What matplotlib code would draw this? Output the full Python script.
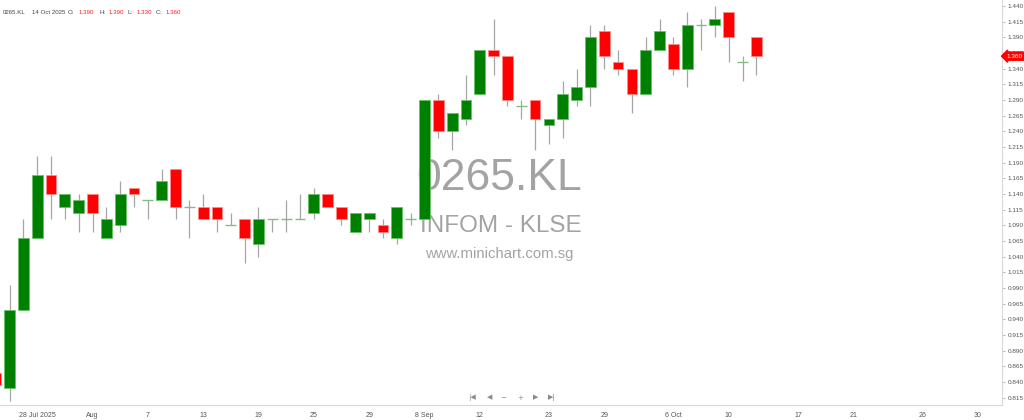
import matplotlib
matplotlib.use("Agg")
import matplotlib.pyplot as plt
from matplotlib.patches import Rectangle
import matplotlib.transforms as mtransforms

plt.rcParams['font.family'] = ['Liberation Sans', 'DejaVu Sans']

# daily OHLC, 23 Jul 2025 .. 14 Oct 2025 (trading days, index = bar position)
opens = [0.855, 0.830, 0.955, 1.07, 1.17, 1.12, 1.11, 1.14, 1.07, 1.09,
         1.15, 1.13, 1.13, 1.18, 1.12, 1.12, 1.12, 1.09, 1.10, 1.06,
         1.10, 1.10, 1.10, 1.11, 1.14, 1.12, 1.08, 1.10, 1.09, 1.07,
         1.10, 1.10, 1.29, 1.24, 1.26, 1.30, 1.37, 1.36, 1.28, 1.29,
         1.25, 1.26, 1.29, 1.31, 1.40, 1.35, 1.34, 1.30, 1.37, 1.38,
         1.34, 1.41, 1.41, 1.43, 1.35, 1.39]
highs = [0.855, 0.995, 1.10, 1.20, 1.20, 1.14, 1.14, 1.14, 1.12, 1.16,
         1.15, 1.13, 1.18, 1.18, 1.13, 1.14, 1.12, 1.11, 1.10, 1.12,
         1.10, 1.13, 1.14, 1.15, 1.14, 1.12, 1.11, 1.11, 1.10, 1.12,
         1.11, 1.29, 1.30, 1.27, 1.33, 1.37, 1.42, 1.36, 1.29, 1.29,
         1.26, 1.32, 1.34, 1.41, 1.41, 1.37, 1.34, 1.39, 1.42, 1.39,
         1.43, 1.42, 1.44, 1.43, 1.36, 1.39]
lows = [0.835, 0.810, 0.955, 1.07, 1.10, 1.10, 1.08, 1.08, 1.07, 1.08,
        1.12, 1.10, 1.13, 1.10, 1.07, 1.10, 1.08, 1.09, 1.03, 1.04,
        1.08, 1.08, 1.10, 1.10, 1.12, 1.09, 1.08, 1.08, 1.07, 1.06,
        1.09, 1.10, 1.23, 1.21, 1.25, 1.30, 1.33, 1.28, 1.26, 1.21,
        1.22, 1.23, 1.28, 1.28, 1.34, 1.33, 1.27, 1.30, 1.37, 1.33,
        1.31, 1.37, 1.39, 1.35, 1.32, 1.33]
closes = [0.835, 0.955, 1.07, 1.17, 1.14, 1.14, 1.13, 1.11, 1.10, 1.14,
          1.14, 1.13, 1.16, 1.12, 1.12, 1.10, 1.10, 1.09, 1.07, 1.10,
          1.10, 1.10, 1.10, 1.14, 1.12, 1.10, 1.11, 1.11, 1.08, 1.12,
          1.10, 1.29, 1.24, 1.27, 1.29, 1.37, 1.36, 1.29, 1.28, 1.26,
          1.26, 1.30, 1.31, 1.39, 1.36, 1.34, 1.30, 1.37, 1.40, 1.34,
          1.41, 1.41, 1.42, 1.39, 1.35, 1.36]

date_tick_pos = [3, 7, 11, 15, 19, 23, 27, 31, 35, 40, 44, 49, 53, 58, 62, 67, 71]
date_tick_labels = ['28 Jul 2025', 'Aug', '7', '13', '19', '25', '29', '8 Sep', '12',
                    '23', '29', '6 Oct', '10', '17', '21', '26', '30']
price_ticks = [round(0.815 + 0.025 * k, 3) for k in range(26)]

W, H = 1024, 420
fig = plt.figure(figsize=(W / 100, H / 100), dpi=100)
ax = fig.add_axes([0, 15 / H, 1002 / W, 405 / H])

green, green_edge = '#008000', '#6cbf6c'
red, red_edge = '#ff0000', '#ff8c8c'
wick_col = '#a6a6a6'
bw = 0.78

for i, (o, h, l, c) in enumerate(zip(opens, highs, lows, closes)):
    ax.vlines(i, l, h, color=wick_col, lw=0.9, zorder=2)
    if abs(o - c) < 1e-9:
        ax.hlines(o, i - bw / 2, i + bw / 2, color='#7fbf7f', lw=1.0, zorder=3)
        continue
    up = c > o
    ax.add_patch(Rectangle((i - bw / 2, min(o, c)), bw, abs(c - o),
                           facecolor=green if up else red,
                           edgecolor=green_edge if up else red_edge,
                           lw=0.6, zorder=3))

ax.set_xlim(0.31, 72.76)
ax.set_ylim(0.8033, 1.4496)

ax.yaxis.tick_right()
ax.set_yticks(price_ticks)
ax.set_yticklabels([f'{p:.3f}' for p in price_ticks])
ax.tick_params(axis='y', length=2.5, width=0.6, color='#b0b0b0', labelsize=4.6,
               labelcolor='#555555', pad=1.5)
ax.set_xticks(date_tick_pos)
ax.set_xticklabels(date_tick_labels)
ax.tick_params(axis='x', length=0, labelsize=5, labelcolor='#555555', pad=5)

for side in ['top', 'left']:
    ax.spines[side].set_visible(False)
for side in ['right', 'bottom']:
    ax.spines[side].set_color('#d8d8d8')
    ax.spines[side].set_linewidth(0.8)

# watermark, behind the candles
wm = dict(transform=fig.transFigure, ha='center', va='baseline', color='#a3a3a3', zorder=0.5)
ax.text(499 / W, 1 - 190 / H, '0265.KL', fontsize=32, **wm)
ax.text(501 / W, 1 - 232 / H, 'INFOM - KLSE', fontsize=17.5, **wm)
ax.text(499.5 / W, 1 - 258 / H, 'www.minichart.com.sg', fontsize=10.7, **wm)

# header
hdr = [(3, '0265.KL', '#444444'), (32, '14 Oct 2025', '#444444'), (68, 'O:', '#444444'),
       (79, f'{opens[-1]:.3f}', '#f02020'), (99, 'H:', '#444444'), (109, f'{highs[-1]:.3f}', '#f02020'),
       (128, 'L:', '#444444'), (137, f'{lows[-1]:.3f}', '#f02020'), (156, 'C:', '#444444'),
       (166, f'{closes[-1]:.3f}', '#f02020')]
for px, s, col in hdr:
    fig.text(px / W, 1 - 13.5 / H, s, fontsize=4.4, color=col, ha='left', va='baseline')

# navigation buttons
nav = [(472, '|◀'), (490, '◀'), (503, '−'), (520, '+'), (536, '▶'), (552, '▶|')]
for px, s in nav:
    fig.text(px / W, 1 - 397.5 / H, s, fontsize=5, color='#8a8a8a', ha='center', va='center',
             family='DejaVu Sans')

# last price tag
tr = mtransforms.blended_transform_factory(fig.transFigure, ax.transData)
ax.text(1006 / W, closes[-1], f'{closes[-1]:.3f}', transform=tr, fontsize=4.6, color='white',
        ha='left', va='center', zorder=10, clip_on=False,
        bbox=dict(boxstyle='larrow,pad=0.25', fc='#ff0000', ec='#ff0000'))

fig.savefig('out.png', dpi=100)
